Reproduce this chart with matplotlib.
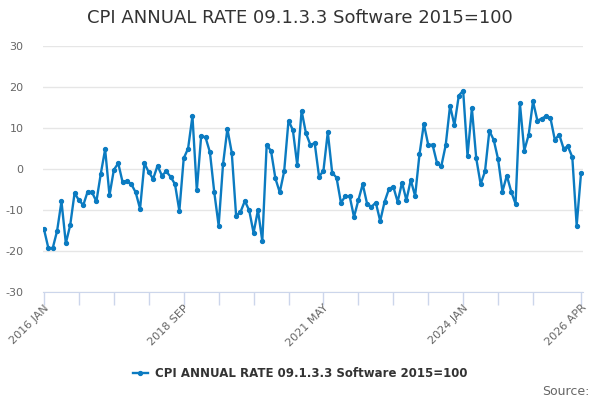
import numpy as np
import matplotlib
matplotlib.use('Agg')
import matplotlib.pyplot as plt

# monthly annual rate, 2016 JAN .. 2026 APR
values = [-14.7, -19.3, -19.3, -15.1, -7.9, -18.1, -13.7, -5.9, -7.6, -8.8,
          -5.5, -5.7, -7.9, -1.2, 4.8, -6.4, -0.2, 1.4, -3.2, -2.9,
          -3.7, -5.7, -9.7, 1.4, -0.8, -2.4, 0.8, -1.6, -0.6, -1.9,
          -3.7, -10.2, 2.6, 5.0, 12.9, -5.2, 8.1, 7.7, 4.1, -5.7,
          -13.8, 1.1, 9.8, 4.0, -11.4, -10.5, -7.8, -10.1, -15.6, -10.0,
          -17.6, 5.9, 4.4, -2.3, -5.7, -0.6, 11.8, 9.5, 1.0, 14.2,
          8.7, 5.9, 6.3, -1.9, -0.4, 9.0, -0.9, -2.1, -8.2, -6.7,
          -6.6, -11.7, -7.6, -3.7, -8.5, -9.2, -8.2, -12.7, -8.0, -4.9,
          -4.3, -8.0, -3.3, -7.6, -2.7, -6.6, 3.6, 11.0, 5.9, 5.9,
          1.5, 0.7, 5.8, 15.4, 10.7, 17.9, 19.1, 3.2, 14.8, 2.6,
          -3.7, -0.6, 9.3, 7.1, 2.4, -5.5, -1.6, -5.5, -8.5, 16.0,
          4.5, 8.3, 16.5, 11.8, 12.3, 12.9, 12.4, 7.1, 8.4, 5.0,
          5.5, 2.9, -13.8, -1.0]
months = np.arange(len(values))
tick_pos = list(range(0, 113, 8)) + [123]
label_pos = [0, 32, 64, 96, 123]
label_text = ['2016 JAN', '2018 SEP', '2021 MAY', '2024 JAN', '2026 APR']
y_ticks = [-30, -20, -10, 0, 10, 20, 30]

series_name = 'CPI ANNUAL RATE 09.1.3.3 Software 2015=100'
line_col = '#0b7bc1'

fig = plt.figure(figsize=(6, 4), dpi=100)
ax = fig.add_axes([43 / 600, 108 / 400, 540 / 600, 246 / 400])

ax.plot(months, values, color=line_col, lw=1.7, marker='o', ms=2.8,
        label=series_name)

ax.set_xlim(-0.23, 123.45)
ax.set_ylim(-30, 30)
ax.set_yticks(y_ticks)
ax.set_yticklabels([str(v) for v in y_ticks], color='#666666', fontsize=8)
ax.grid(axis='y', color='#e6e6e6', lw=1)
ax.set_axisbelow(True)

ax.set_xticks(tick_pos)
ax.set_xticklabels(['' for p in tick_pos])
ax.tick_params(axis='x', length=9, color='#ccd6eb', width=1)
ax.tick_params(axis='y', length=0, pad=14)
for p, t in zip(label_pos, label_text):
    ax.text(p, -32.6, t, rotation=45, ha='right', va='top',
            rotation_mode='anchor', color='#666666', fontsize=8)

for s in ['top', 'right', 'left']:
    ax.spines[s].set_visible(False)
ax.spines['bottom'].set_color('#ccd6eb')

fig.text(0.5, 0.955, series_name, ha='center', va='center',
         fontsize=13, color='#333333')

leg = fig.legend(loc='center', bbox_to_anchor=(0.5, 0.067), frameon=False,
                 fontsize=8.5, handlelength=1.3, handletextpad=0.6)
for t in leg.get_texts():
    t.set_fontweight('bold')
    t.set_color('#333333')

fig.text(0.983, 0.022, 'Source:', ha='right', va='center',
         fontsize=9, color='#666666')

fig.savefig('out.png', dpi=100)
